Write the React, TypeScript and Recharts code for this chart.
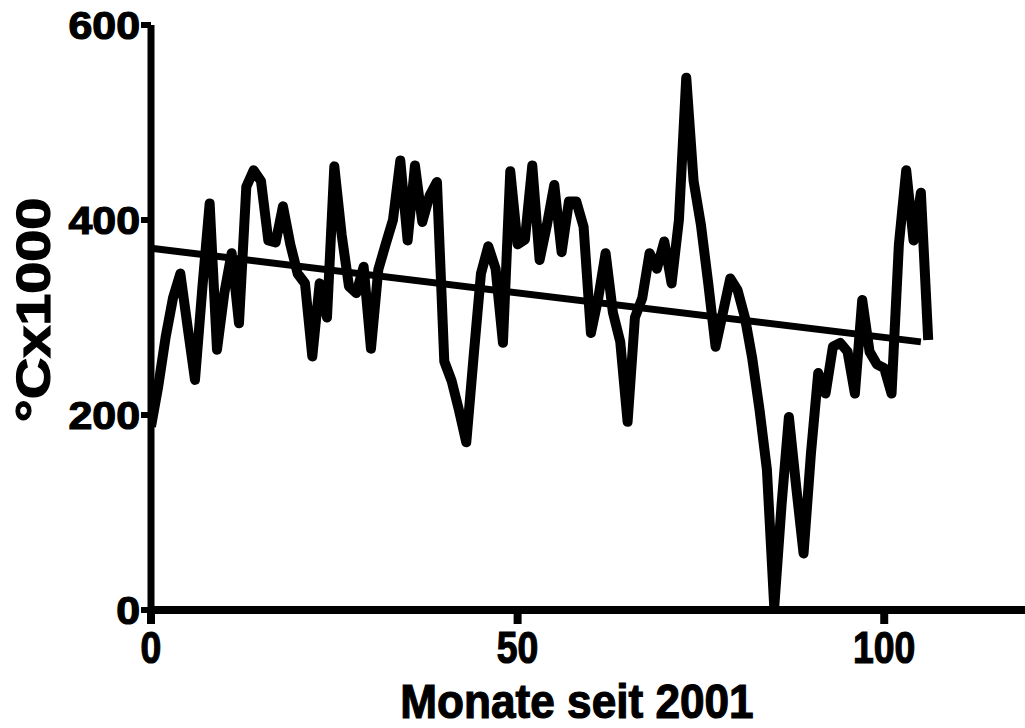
import { LineChart, Line, XAxis, YAxis } from 'recharts'

// monthly values, °C x 1000, month 0 = Jan 2001
const temps = [
  188, 230, 280, 320, 345, 290, 236, 330, 417, 267,
  325, 366, 294, 434, 451, 440, 379, 377, 414, 375,
  345, 335, 260, 335, 300, 455, 385, 332, 325, 352,
  268, 349, 375, 400, 461, 379, 456, 398, 425, 439,
  255, 235, 205, 172, 260, 345, 373, 350, 274, 450,
  375, 380, 456, 359, 395, 436, 367, 419, 419, 393,
  284, 320, 366, 305, 275, 193, 300, 320, 366, 350,
  378, 335, 400, 546, 440, 395, 335, 270, 305, 340,
  328, 300, 258, 205, 144, 3, 108, 198, 126, 58,
  160, 243, 222, 270, 274, 265, 222, 318, 265, 252,
  248, 222, 375, 451, 379, 428, 277,
]
const trendX = [0, 105]
const trendY = [371, 275]
const xTicks = [0, 50, 100]
const yTicks = [0, 200, 400, 600]

const series = temps.map((y, x) => ({ x, y }))
const trend = trendX.map((x, i) => ({ x, y: trendY[i] }))

const font = {
  fontFamily: 'Liberation Sans, Arial, sans-serif', fontWeight: 700, fill: '#000',
  stroke: '#000', strokeWidth: 1.2,
}

const XTick = ({ x, payload }: any) => (
  <text transform={`translate(${x},663) scale(0.85,1)`} textAnchor="middle" fontSize={44} style={font}>
    {payload.value}
  </text>
)

const YTick = ({ y, payload }: any) => (
  <text transform={`translate(140,${y + 14}) scale(1.1,1)`} textAnchor="end" fontSize={39} style={font}>
    {payload.value}
  </text>
)

const XLabel = () => (
  <text transform="translate(577,718) scale(0.92,1)" textAnchor="middle" fontSize={48} style={font}>
    Monate seit 2001
  </text>
)

const YLabel = () => (
  <text transform="translate(50,310) rotate(-90) scale(1.2,1)" textAnchor="middle" fontSize={48} style={font}>
    °Cx1000
  </text>
)

export default function App() {
  return (
    <div style={{ position: 'absolute', left: 0, top: 0, background: '#fff' }}>
      <LineChart width={1025} height={728} margin={{ top: 25, right: 0, bottom: 0, left: 0 }}>
        <XAxis
          type="number" dataKey="x" domain={[0, 119.2]} ticks={xTicks} allowDataOverflow height={118}
          axisLine={{ stroke: '#000', strokeWidth: 8 }} tickLine={{ stroke: '#000', strokeWidth: 8 }} tickSize={14}
          tick={(p: any) => <XTick {...p} />} label={{ content: () => <XLabel /> }}
        />
        <YAxis
          type="number" domain={[0, 600]} ticks={yTicks} width={151}
          axisLine={{ stroke: '#000', strokeWidth: 7 }} tickLine={{ stroke: '#000', strokeWidth: 6 }} tickSize={10}
          tick={(p: any) => <YTick {...p} />} label={{ content: () => <YLabel /> }}
        />
        <Line data={series} dataKey="y" type="linear" stroke="#000" strokeWidth={10} strokeLinejoin="round" dot={false} isAnimationActive={false} />
        <Line data={trend} dataKey="y" type="linear" stroke="#000" strokeWidth={7} dot={false} isAnimationActive={false} />
      </LineChart>
    </div>
  )
}
